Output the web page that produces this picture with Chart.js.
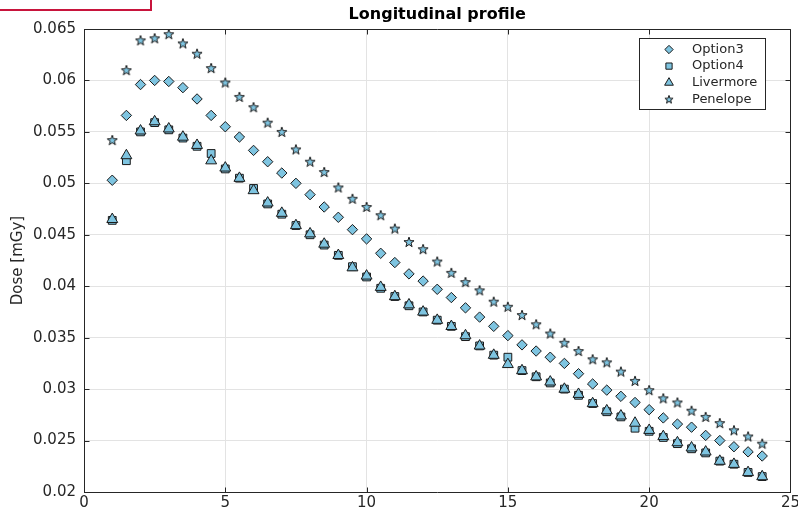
<!DOCTYPE html>
<html>
<head>
<meta charset="utf-8">
<script src="https://cdn.jsdelivr.net/npm/chart.js@4.4.1/dist/chart.umd.min.js"></script>
<style>
  html, body { margin: 0; padding: 0; background: #fff; overflow: hidden; }
  #wrap { position: relative; width: 802px; height: 517px; }
  #mark { position: absolute; left: -2px; top: -2px; width: 150px; height: 9px; border: 2px solid #c8143c; }
</style>
</head>
<body>
<div id="wrap">
  <canvas id="chart" width="802" height="517"></canvas>
  <div id="mark"></div>
</div>
<script>
// ----------------------------
// Data
// ----------------------------
var depth = [1, 1.5, 2, 2.5, 3, 3.5, 4, 4.5, 5, 5.5, 6, 6.5, 7, 7.5, 8, 8.5, 9, 9.5, 10, 10.5,
    11, 11.5, 12, 12.5, 13, 13.5, 14, 14.5, 15, 15.5, 16, 16.5, 17, 17.5, 18, 18.5, 19, 19.5,
    20, 20.5, 21, 21.5, 22, 22.5, 23, 23.5, 24];

var option3 = [0.0503, 0.0566, 0.0596, 0.0600, 0.0599, 0.0593, 0.0582, 0.0566, 0.0555, 0.0545,
    0.0532, 0.0521, 0.0510, 0.0500, 0.0489, 0.0477, 0.0467, 0.0455, 0.0446, 0.0432,
    0.0423, 0.0412, 0.0405, 0.0397, 0.0389, 0.0379, 0.0370, 0.0361, 0.0352, 0.0343,
    0.0337, 0.0331, 0.0325, 0.0315, 0.0305, 0.0299, 0.0293, 0.0287, 0.0280, 0.0272,
    0.0266, 0.0263, 0.0255, 0.0250, 0.0244, 0.0239, 0.0235];

var option4 = [0.0464, 0.0522, 0.0550, 0.0559, 0.0552, 0.0544, 0.0536, 0.0529, 0.0514, 0.0505,
    0.0495, 0.0480, 0.0470, 0.0459, 0.0450, 0.0440, 0.0430, 0.0419, 0.0409, 0.0398,
    0.0390, 0.0381, 0.0375, 0.0367, 0.0361, 0.0351, 0.0342, 0.0333, 0.0331, 0.0318,
    0.0312, 0.0306, 0.0300, 0.0294, 0.0286, 0.0278, 0.0273, 0.0262, 0.0259, 0.0253,
    0.0247, 0.0242, 0.0238, 0.0230, 0.0227, 0.0219, 0.0215];

var livermore = [0.0465, 0.0527, 0.0551, 0.0560, 0.0553, 0.0545, 0.0537, 0.0522, 0.0515, 0.0505,
    0.0493, 0.0481, 0.0471, 0.0459, 0.0451, 0.0441, 0.0430, 0.0418, 0.0410, 0.0399,
    0.0390, 0.0382, 0.0375, 0.0367, 0.0361, 0.0352, 0.0342, 0.0333, 0.0324, 0.0318,
    0.0312, 0.0307, 0.0300, 0.0295, 0.0286, 0.0279, 0.0274, 0.0267, 0.0260, 0.0254,
    0.0248, 0.0243, 0.0239, 0.0230, 0.0227, 0.0219, 0.0215];

var penelope = [0.0542, 0.0610, 0.0639, 0.0641, 0.0645, 0.0636, 0.0626, 0.0612, 0.0598, 0.0584,
    0.0574, 0.0559, 0.0550, 0.0533, 0.0521, 0.0511, 0.0496, 0.0485, 0.0477, 0.0469,
    0.0456, 0.0443, 0.0436, 0.0424, 0.0413, 0.0404, 0.0396, 0.0385, 0.0380, 0.0372,
    0.0363, 0.0354, 0.0345, 0.0337, 0.0329, 0.0326, 0.0317, 0.0308, 0.0299, 0.0291,
    0.0287, 0.0279, 0.0273, 0.0267, 0.0260, 0.0254, 0.0247];

var xTicks = [0, 5, 10, 15, 20, 25];
var yTicks = [0.02, 0.025, 0.03, 0.035, 0.04, 0.045, 0.05, 0.055, 0.06, 0.065];

var FILL = '#7ec4e0';
var EDGE = '#1a1a1a';
var AXIS = '#262626';
var FONT = '"DejaVu Sans", sans-serif';

// ----------------------------
// Pentagram marker (Chart.js 'star' is only an asterisk)
// ----------------------------
function makeStar(size) {
    var c = document.createElement('canvas');
    c.width = size; c.height = size;
    var g = c.getContext('2d');
    var cx = size / 2, cy = size / 2 + 0.4, ro = size / 2 - 0.7, ri = ro * 0.4;
    g.beginPath();
    for (var i = 0; i < 10; i++) {
        var r = i % 2 ? ri : ro;
        var a = -Math.PI / 2 + i * Math.PI / 5;
        var px = cx + r * Math.cos(a), py = cy + r * Math.sin(a);
        if (i === 0) g.moveTo(px, py); else g.lineTo(px, py);
    }
    g.closePath();
    g.fillStyle = FILL;
    g.fill();
    g.lineWidth = 1;
    g.strokeStyle = EDGE;
    g.stroke();
    return c;
}
var starImg = makeStar(12);
var starImgSmall = makeStar(10);

function toPoints(ys) {
    return depth.map(function (x, i) { return { x: x, y: ys[i] }; });
}

function series(label, ys, style, radius, order) {
    return {
        label: label,
        data: toPoints(ys),
        showLine: false,
        pointStyle: style,
        pointRadius: radius,
        pointHoverRadius: radius,
        pointBackgroundColor: FILL,
        pointBorderColor: EDGE,
        pointBorderWidth: 1,
        order: order
    };
}

// ----------------------------
// Plugins: title, box + inward ticks, legend
// ----------------------------
var titlePlugin = {
    id: 'axTitle',
    afterDraw: function (chart) {
        var ctx = chart.ctx, a = chart.chartArea;
        ctx.save();
        ctx.font = 'bold 16px ' + FONT;
        ctx.fillStyle = '#000';
        ctx.textAlign = 'center';
        ctx.textBaseline = 'middle';
        ctx.fillText('Longitudinal profile', (a.left + a.right) / 2, 15);
        ctx.restore();
    }
};

var boxPlugin = {
    id: 'axBox',
    afterDraw: function (chart) {
        var ctx = chart.ctx, a = chart.chartArea;
        var xs = chart.scales.x, ys = chart.scales.y;
        var L = Math.round(a.left) + 0.5, R = Math.round(a.right) + 0.5;
        var T = Math.round(a.top) + 0.5, B = Math.round(a.bottom) + 0.5;
        var tl = 5;
        ctx.save();
        ctx.strokeStyle = AXIS;
        ctx.lineWidth = 1;
        ctx.beginPath();
        ctx.moveTo(L, T); ctx.lineTo(R, T); ctx.lineTo(R, B);
        xTicks.forEach(function (v) {
            var px = Math.round(xs.getPixelForValue(v)) + 0.5;
            ctx.moveTo(px, B); ctx.lineTo(px, B - tl);
            ctx.moveTo(px, T); ctx.lineTo(px, T + tl);
        });
        yTicks.forEach(function (v) {
            var py = Math.round(ys.getPixelForValue(v)) + 0.5;
            ctx.moveTo(L, py); ctx.lineTo(L + tl, py);
            ctx.moveTo(R, py); ctx.lineTo(R - tl, py);
        });
        ctx.stroke();
        ctx.restore();
    }
};

var legendPlugin = {
    id: 'boxLegend',
    afterDraw: function (chart) {
        var ctx = chart.ctx, a = chart.chartArea;
        var left = Math.round(a.right) - 151, top = Math.round(a.top) + 9;
        var w = 126, h = 71;
        ctx.save();
        ctx.fillStyle = '#fff';
        ctx.fillRect(left, top, w, h);
        ctx.strokeStyle = AXIS;
        ctx.lineWidth = 1;
        ctx.strokeRect(left + 0.5, top + 0.5, w, h);
        ctx.font = '13px ' + FONT;
        ctx.textBaseline = 'middle';
        chart.data.datasets.forEach(function (ds, i) {
            var y = top + 11.5 + i * 16.6;
            var mx = left + 30;
            ctx.fillStyle = FILL;
            ctx.strokeStyle = EDGE;
            ctx.lineWidth = 1;
            var style = ds.pointStyle === starImg ? starImgSmall : ds.pointStyle;
            if (Chart.helpers && Chart.helpers.drawPoint) {
                Chart.helpers.drawPoint(ctx, {
                    pointStyle: style,
                    radius: ds.pointRadius * 0.8,
                    borderWidth: 1,
                    rotation: 0
                }, mx, y);
            }
            ctx.fillStyle = AXIS;
            ctx.fillText(ds.label, left + 53, y);
        });
        ctx.restore();
    }
};

// ----------------------------
// Chart
// ----------------------------
new Chart(document.getElementById('chart').getContext('2d'), {
    type: 'scatter',
    data: {
        datasets: [
            series('Option3', option3, 'rectRot', 5.2, 4),
            series('Option4', option4, 'rect', 5.5, 3),
            series('Livermore', livermore, 'triangle', 6.3, 2),
            series('Penelope', penelope, starImg, 6, 1)
        ]
    },
    options: {
        responsive: false,
        animation: false,
        devicePixelRatio: 1,
        layout: { padding: { top: 29, right: 0, left: 0, bottom: 0 } },
        plugins: {
            legend: { display: false },
            tooltip: { enabled: false }
        },
        scales: {
            x: {
                type: 'linear',
                min: 0,
                max: 25,
                afterBuildTicks: function (s) { s.ticks = xTicks.map(function (v) { return { value: v }; }); },
                afterFit: function (s) { s.height = 25; },
                ticks: {
                    color: AXIS,
                    font: { family: FONT, size: 15 },
                    padding: 2,
                    maxRotation: 0,
                    callback: function (v) { return String(v); }
                },
                grid: { color: '#e3e3e3', drawTicks: false },
                border: { color: AXIS, width: 1 }
            },
            y: {
                type: 'linear',
                min: 0.02,
                max: 0.065,
                afterBuildTicks: function (s) { s.ticks = yTicks.map(function (v) { return { value: v }; }); },
                afterFit: function (s) { s.width = 84; },
                ticks: {
                    color: AXIS,
                    font: { family: FONT, size: 15 },
                    padding: 8,
                    callback: function (v) { return String(parseFloat(v.toFixed(3))); }
                },
                grid: { color: '#e3e3e3', drawTicks: false },
                border: { color: AXIS, width: 1 },
                title: {
                    display: true,
                    text: 'Dose [mGy]',
                    color: AXIS,
                    font: { family: FONT, size: 15 },
                    padding: { top: 9, bottom: 0 }
                }
            }
        }
    },
    plugins: [titlePlugin, boxPlugin, legendPlugin]
});
</script>
</body>
</html>
